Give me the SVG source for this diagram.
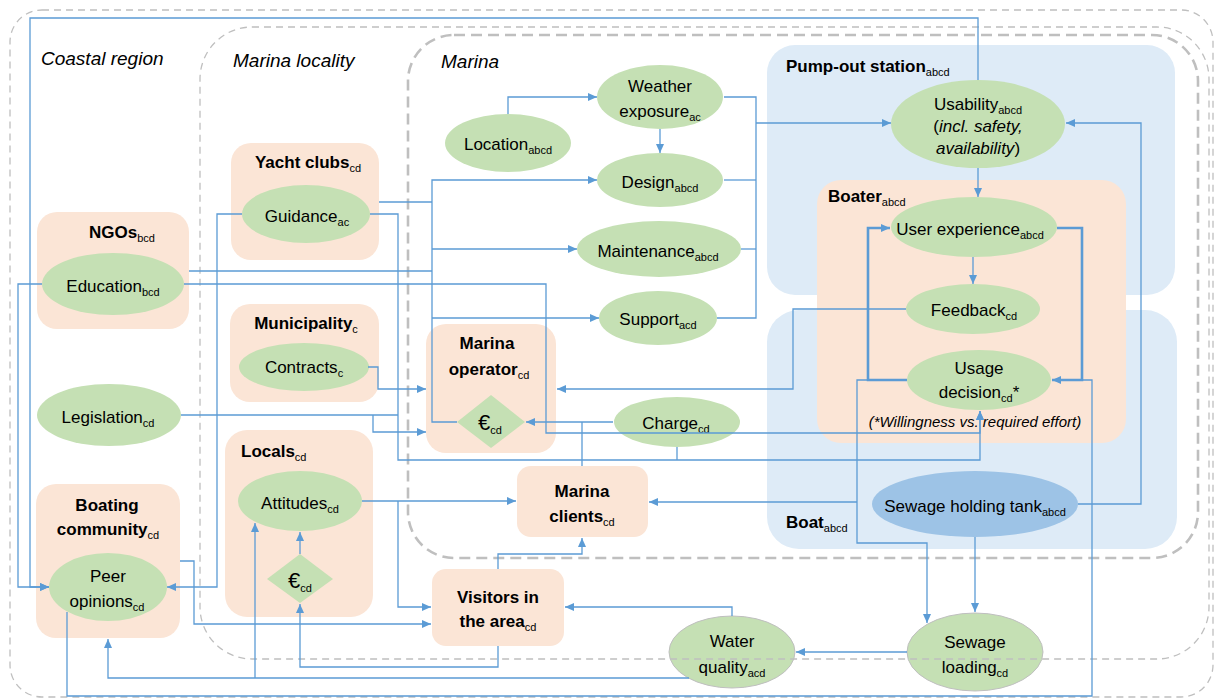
<svg xmlns="http://www.w3.org/2000/svg" width="1214" height="699" viewBox="0 0 1214 699">
<defs>
<style>
.t{font-family:"Liberation Sans",Arial,sans-serif;font-size:17px;fill:#000;text-anchor:middle}
.b{font-weight:bold}
.l{text-anchor:start}
.s{font-size:11px;font-weight:normal}
.i{font-style:italic}
.r{font-family:"Liberation Sans",Arial,sans-serif;font-size:19px;font-style:italic;fill:#000}
.eu{font-size:22px}
.ell{fill:#c5e0b4}
.ellg{fill:#c5e0b4;stroke:#bfbfbf;stroke-width:1}
.peach{fill:#fbe5d6}
.blue{fill:#deebf7}
.dia{fill:#c5e0b4}
.reg{fill:none;stroke:#bfbfbf;stroke-width:1.3;stroke-dasharray:7 5}
.regb{fill:none;stroke:#bfbfbf;stroke-width:2.6;stroke-dasharray:11 6}
.c path{fill:none;stroke:#5b9bd5;stroke-width:1.3}
.c path.k{stroke-width:2.6}
</style>
<marker id="a" markerUnits="userSpaceOnUse" markerWidth="9" markerHeight="8" refX="9" refY="4" orient="auto">
<path d="M0,0 L9,4 L0,8 Z" fill="#5b9bd5"/>
</marker>
</defs>

<!-- large boxes -->
<g id="pumpout"><rect class="blue" x="767" y="45" width="408" height="250" rx="28"/><text class="t b l" x="786" y="72">Pump-out station<tspan class="s" dy="4">abcd</tspan></text></g>
<g id="boat"><rect class="blue" x="767" y="310" width="410" height="239" rx="32"/><text class="t b l" x="786" y="528">Boat<tspan class="s" dy="4">abcd</tspan></text></g>
<g id="boater"><rect class="peach" x="817" y="180" width="309" height="263" rx="24"/><text class="t b l" x="828" y="202">Boater<tspan class="s" dy="4">abcd</tspan></text>
<text class="t i" x="975" y="427" style="font-size:15px">(*Willingness vs. required effort)</text></g>

<g id="ngos"><rect class="peach" x="37" y="212" width="152" height="117" rx="20"/><text class="t b" x="122" y="238">NGOs<tspan class="s" dy="4">bcd</tspan></text></g>
<g id="boating-community"><rect class="peach" x="36" y="484" width="144" height="154" rx="20"/><text class="t b" x="107" y="511">Boating</text><text class="t b" x="108" y="535">community<tspan class="s" dy="4">cd</tspan></text></g>
<g id="yacht-clubs"><rect class="peach" x="231" y="143" width="148" height="117" rx="20"/><text class="t b" x="308" y="168">Yacht clubs<tspan class="s" dy="4">cd</tspan></text></g>
<g id="municipality"><rect class="peach" x="230" y="304" width="149" height="98" rx="20"/><text class="t b" x="306" y="329">Municipality<tspan class="s" dy="4">c</tspan></text></g>
<g id="locals"><rect class="peach" x="225" y="430" width="148" height="187" rx="22"/><text class="t b l" x="241" y="457">Locals<tspan class="s" dy="4">cd</tspan></text></g>
<g id="marina-operator"><rect class="peach" x="426" y="324" width="130" height="129" rx="20"/><text class="t b" x="487" y="349">Marina</text><text class="t b" x="489" y="375">operator<tspan class="s" dy="4">cd</tspan></text></g>
<g id="marina-clients"><rect class="peach" x="517" y="466" width="131" height="71" rx="14"/><text class="t b" x="582" y="497">Marina</text><text class="t b" x="582" y="522">clients<tspan class="s" dy="4">cd</tspan></text></g>
<g id="visitors"><rect class="peach" x="432" y="569" width="132" height="77" rx="14"/><text class="t b" x="498" y="603">Visitors in</text><text class="t b" x="498" y="627">the area<tspan class="s" dy="4">cd</tspan></text></g>

<!-- ellipses -->
<g id="usability"><ellipse class="ell" cx="978" cy="124" rx="87" ry="44"/><text class="t" x="978" y="110">Usability<tspan class="s" dy="4">abcd</tspan></text><text class="t" x="978" y="132">(<tspan class="i">incl. safety,</tspan></text><text class="t" x="978" y="154"><tspan class="i">availability</tspan>)</text></g>
<g id="user-experience"><ellipse class="ell" cx="974" cy="227" rx="83" ry="30"/><text class="t" x="970" y="235">User experience<tspan class="s" dy="4">abcd</tspan></text></g>
<g id="feedback"><ellipse class="ell" cx="973" cy="309" rx="67" ry="25"/><text class="t" x="974" y="316">Feedback<tspan class="s" dy="4">cd</tspan></text></g>
<g id="usage-decision"><ellipse class="ell" cx="979" cy="380" rx="72" ry="30"/><text class="t" x="979" y="374">Usage</text><text class="t" x="979" y="398">decision<tspan class="s" dy="4">cd</tspan><tspan dy="-4">*</tspan></text></g>
<g id="sewage-tank"><ellipse cx="975" cy="504" rx="103" ry="33" fill="#9dc3e6"/><text class="t" x="975" y="512">Sewage holding tank<tspan class="s" dy="4">abcd</tspan></text></g>
<g id="sewage-loading"><ellipse class="ellg" cx="975" cy="652" rx="68" ry="39"/><text class="t" x="975" y="648">Sewage</text><text class="t" x="975" y="673">loading<tspan class="s" dy="4">cd</tspan></text></g>
<g id="water-quality"><ellipse class="ellg" cx="732" cy="652" rx="63" ry="36"/><text class="t" x="732" y="647">Water</text><text class="t" x="732" y="673">quality<tspan class="s" dy="4">acd</tspan></text></g>
<g id="weather"><ellipse class="ell" cx="660" cy="97" rx="63" ry="32"/><text class="t" x="660" y="92">Weather</text><text class="t" x="660" y="117">exposure<tspan class="s" dy="4">ac</tspan></text></g>
<g id="location"><ellipse class="ell" cx="508" cy="143" rx="63" ry="29"/><text class="t" x="508" y="150">Location<tspan class="s" dy="4">abcd</tspan></text></g>
<g id="design"><ellipse class="ell" cx="660" cy="180" rx="63" ry="27"/><text class="t" x="660" y="188">Design<tspan class="s" dy="4">abcd</tspan></text></g>
<g id="maintenance"><ellipse class="ell" cx="659" cy="249" rx="82" ry="28"/><text class="t" x="658" y="257">Maintenance<tspan class="s" dy="4">abcd</tspan></text></g>
<g id="support"><ellipse class="ell" cx="658" cy="318" rx="59" ry="27"/><text class="t" x="658" y="325">Support<tspan class="s" dy="4">acd</tspan></text></g>
<g id="charge"><ellipse class="ell" cx="677" cy="422" rx="63" ry="25"/><text class="t" x="676" y="429">Charge<tspan class="s" dy="4">cd</tspan></text></g>
<g id="operator-money"><polygon class="dia" points="491,395 525,422 491,448 457,422"/><text class="t" x="490" y="430"><tspan class="eu">€</tspan><tspan class="s" dy="4">cd</tspan></text></g>
<g id="education"><ellipse class="ell" cx="113" cy="284" rx="71" ry="31"/><text class="t" x="113" y="292">Education<tspan class="s" dy="4">bcd</tspan></text></g>
<g id="legislation"><ellipse class="ell" cx="109" cy="415" rx="72" ry="31"/><text class="t" x="108" y="423">Legislation<tspan class="s" dy="4">cd</tspan></text></g>
<g id="peer-opinions"><ellipse class="ell" cx="108" cy="587" rx="59" ry="34"/><text class="t" x="108" y="582">Peer</text><text class="t" x="107" y="607">opinions<tspan class="s" dy="4">cd</tspan></text></g>
<g id="guidance"><ellipse class="ell" cx="306" cy="214" rx="64" ry="29"/><text class="t" x="307" y="222">Guidance<tspan class="s" dy="4">ac</tspan></text></g>
<g id="contracts"><ellipse class="ell" cx="304" cy="367" rx="65" ry="24"/><text class="t" x="304" y="373">Contracts<tspan class="s" dy="4">c</tspan></text></g>
<g id="attitudes"><ellipse class="ell" cx="300" cy="501" rx="62" ry="30"/><text class="t" x="300" y="509">Attitudes<tspan class="s" dy="4">cd</tspan></text></g>
<g id="locals-money"><polygon class="dia" points="300,554 333,579 300,603 267,579"/><text class="t" x="300" y="588"><tspan class="eu">€</tspan><tspan class="s" dy="4">cd</tspan></text></g>

<!-- region outlines -->
<g id="coastal-region"><rect class="reg" x="10" y="10" width="1203" height="687" rx="32"/><text class="r" x="41" y="65">Coastal region</text></g>
<g id="marina-locality"><rect class="reg" x="200" y="27" width="1009" height="632" rx="52"/><text class="r" x="233" y="67">Marina locality</text></g>
<g id="marina"><rect class="regb" x="408" y="35" width="790" height="523" rx="46"/><text class="r" x="441" y="68">Marina</text></g>

<!-- connectors -->
<g id="connectors" class="c">
<path d="M978,80 V18 H30 V587 H49" marker-end="url(#a)"/>
<path d="M42,284 H18 V587 H49" marker-end="url(#a)"/>
<path d="M242,214 H217 V587 H167" marker-end="url(#a)"/>
<path d="M379,202 H432"/>
<path d="M189,271 H432"/>
<path d="M457,422 H432 V180 H597" marker-end="url(#a)"/>
<path d="M432,249 H577" marker-end="url(#a)"/>
<path d="M432,318 H599" marker-end="url(#a)"/>
<path d="M184,284 H546 V433 H980 V411" marker-end="url(#a)"/>
<path d="M370,214 H398 V460 H980 V411" marker-end="url(#a)"/>
<path d="M181,415 H398"/>
<path d="M373,415 V432 H426" marker-end="url(#a)"/>
<path d="M368,367 H378 V389 H426" marker-end="url(#a)"/>
<path d="M508,114 V97 H597" marker-end="url(#a)"/>
<path d="M660,129 V153" marker-end="url(#a)"/>
<path d="M724,97 H756 V318 H717"/>
<path d="M724,180 H756"/>
<path d="M741,249 H756"/>
<path d="M756,123 H891" marker-end="url(#a)"/>
<path d="M978,168 V197" marker-end="url(#a)"/>
<path d="M973,257 V284" marker-end="url(#a)"/>
<path d="M906,309 H793 V389 H557" marker-end="url(#a)"/>
<path d="M613,422 H526" marker-end="url(#a)"/>
<path d="M582,466 V422"/>
<path d="M677,447 V460"/>
<path d="M907,380 H857 V543 H927 V623" marker-end="url(#a)"/>
<path d="M857,502 H649" marker-end="url(#a)"/>
<path class="k" d="M907,380 H868 V228 H890" marker-end="url(#a)"/>
<path class="k" d="M1057,228 H1082 V380 H1052" marker-end="url(#a)"/>
<path d="M67,612 V696 H1092 V380 H1082"/>
<path d="M1078,504 H1141 V123 H1066" marker-end="url(#a)"/>
<path d="M975,537 V612" marker-end="url(#a)"/>
<path d="M907,652 H796" marker-end="url(#a)"/>
<path d="M732,616 V607 H565" marker-end="url(#a)"/>
<path d="M689,678 H108 V639" marker-end="url(#a)"/>
<path d="M255,678 V523" marker-end="url(#a)"/>
<path d="M498,646 V667 H300 V604" marker-end="url(#a)"/>
<path d="M300,554 V532" marker-end="url(#a)"/>
<path d="M362,501 H516" marker-end="url(#a)"/>
<path d="M398,501 V607 H431" marker-end="url(#a)"/>
<path d="M180,561 H194 V624 H431" marker-end="url(#a)"/>
<path d="M498,569 V554 H582 V538" marker-end="url(#a)"/>
</g>
</svg>
